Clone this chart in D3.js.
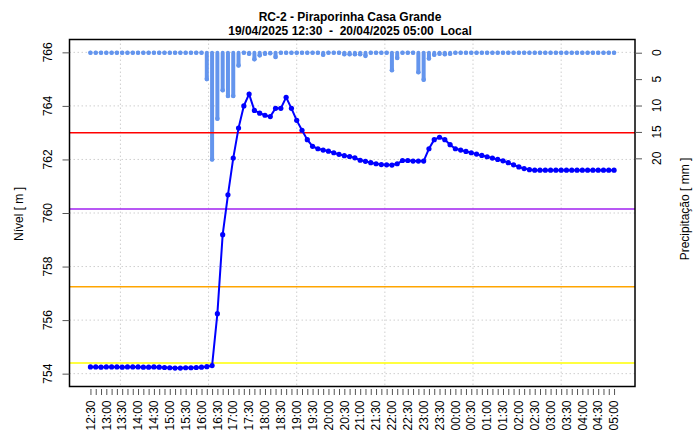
<!DOCTYPE html>
<html>
<head>
<meta charset="utf-8">
<script src="https://cdn.jsdelivr.net/npm/d3@7"></script>
<style>
body { margin: 0; background: #fff; }
text { font-family: "Liberation Sans", Arial, Helvetica, sans-serif; white-space: pre; }
</style>
</head>
<body>
<script>
// titulo
var titleLines = ["RC-2 - Piraporinha Casa Grande", "19/04/2025 12:30  -  20/04/2025 05:00  Local"];
var yTitle = "Nível [ m ]";
var y2Title = "Precipitação [ mm ]";

// leituras a cada 10 minutos, inicio 19/04/2025 12:30 (hora local)
var startLocal = Date.UTC(2025, 3, 19, 12, 30);
var stepMin = 10;
var utcOffsetHours = 3; // local = UTC-3, usado para a grade vertical

// nivel [m]
var nivel = [
  754.25, 754.25, 754.24, 754.25, 754.25, 754.25, 754.24, 754.25, 754.25, 754.25,
  754.24, 754.24, 754.25, 754.24, 754.23, 754.22, 754.21, 754.21, 754.22, 754.22,
  754.23, 754.24, 754.26, 754.30, 756.24, 759.19, 760.68, 762.05, 763.17, 764.00,
  764.44, 763.83, 763.73, 763.65, 763.60, 763.91, 763.91, 764.32, 763.91, 763.46,
  763.09, 762.74, 762.49, 762.40, 762.35, 762.31, 762.25, 762.19, 762.14, 762.11,
  762.06, 761.97, 761.93, 761.88, 761.84, 761.81, 761.80, 761.79, 761.84, 761.96,
  761.96, 761.94, 761.94, 761.94, 762.40, 762.74, 762.83, 762.74, 762.55, 762.40,
  762.35, 762.30, 762.25, 762.20, 762.15, 762.10, 762.05, 762.00, 761.95, 761.88,
  761.80, 761.72, 761.66, 761.62, 761.60, 761.60, 761.60, 761.60, 761.60, 761.60,
  761.60, 761.60, 761.60, 761.60, 761.60, 761.60, 761.60, 761.60, 761.60, 761.60
];

// precipitacao [mm]
var chuva = [
  0, 0, 0, 0, 0, 0, 0, 0, 0, 0,
  0, 0, 0, 0, 0, 0, 0, 0, 0, 0,
  0, 0, 5.0, 20.2, 12.5, 7.1, 8.2, 8.2, 2.4, 0,
  0.2, 1.25, 0.5, 0.2, 0.1, 0.8, 0, 0, 0, 0,
  0, 0, 0, 0, 0.4, 0, 0, 0, 0.3, 0.3,
  0.3, 0.3, 0.6, 0, 0, 0, 0, 3.3, 1.0, 0,
  0, 0, 3.7, 5.1, 1.1, 0.4, 0.2, 0.3, 0.2, 0,
  0, 0, 0, 0, 0, 0, 0, 0, 0, 0,
  0, 0, 0, 0, 0, 0, 0, 0, 0, 0,
  0, 0, 0, 0, 0, 0, 0, 0, 0, 0
];

// cotas de referencia
var cotas = [763.0, 760.15, 757.25, 754.4];
var cotasCores = ["#ff0000", "#a020f0", "#ffa500", "#ffff00"];

var nivelTicks = [754, 756, 758, 760, 762, 764, 766];
var chuvaTicks = [0, 5, 10, 15, 20];

var width = 695, height = 437;
// (nao usar "top" como nome global: window.top)
var plotLeft = 69.5, plotRight = 635, plotTop = 39.5, plotBottom = 386.5;

var times = nivel.map(function(d, i) { return new Date(startLocal + i * stepMin * 60000); });
var t0 = times[0].getTime(), t1 = times[times.length - 1].getTime();
var ext = (t1 - t0) * 0.04;

var xScale = d3.scaleUtc()
    .domain([new Date(t0 - ext), new Date(t1 + ext)])
    .range([plotLeft, plotRight]);

var yScale = d3.scaleLinear()
    .domain([753.52, 766.48])
    .range([plotBottom, plotTop]);

var y2Scale = d3.scaleLinear()
    .domain([-2.5, 63.2])
    .range([plotTop, plotBottom]);

var svg = d3.select('body').append('svg')
    .attr('width', width)
    .attr('height', height);

// grade horizontal
svg.append('g').selectAll('line')
    .data(nivelTicks)
    .enter().append('line')
    .attr('x1', plotLeft).attr('x2', plotRight)
    .attr('y1', function(d) { return yScale(d); })
    .attr('y2', function(d) { return yScale(d); })
    .attr('stroke', '#cfcfcf')
    .attr('stroke-dasharray', '1.5,2.5');

// grade vertical (R pretty() sobre segundos UTC: a cada 10000 s)
var gridStep = 10000 * 1000;
var offs = utcOffsetHours * 3600 * 1000;
var gridTimes = [];
var g = Math.ceil((t0 - ext + offs) / gridStep) * gridStep - offs;
while (g <= t1 + ext) { gridTimes.push(new Date(g)); g += gridStep; }

svg.append('g').selectAll('line')
    .data(gridTimes)
    .enter().append('line')
    .attr('x1', function(d) { return xScale(d); })
    .attr('x2', function(d) { return xScale(d); })
    .attr('y1', plotTop).attr('y2', plotBottom)
    .attr('stroke', '#cfcfcf')
    .attr('stroke-dasharray', '1.5,2.5');

// precipitacao
var chuvaCor = '#6495ed';
var pg = svg.append('g');
pg.selectAll('line')
    .data(chuva)
    .enter().append('line')
    .attr('x1', function(d, i) { return xScale(times[i]); })
    .attr('x2', function(d, i) { return xScale(times[i]); })
    .attr('y1', y2Scale(0))
    .attr('y2', function(d) { return y2Scale(d); })
    .attr('stroke', chuvaCor)
    .attr('stroke-width', 4)
    .attr('stroke-linecap', 'round');
pg.selectAll('circle')
    .data(chuva)
    .enter().append('circle')
    .attr('cx', function(d, i) { return xScale(times[i]); })
    .attr('cy', function(d) { return y2Scale(d); })
    .attr('r', 2.3)
    .attr('fill', chuvaCor);

// cotas
svg.append('g').selectAll('line')
    .data(cotas)
    .enter().append('line')
    .attr('x1', plotLeft).attr('x2', plotRight)
    .attr('y1', function(d) { return yScale(d); })
    .attr('y2', function(d) { return yScale(d); })
    .attr('stroke', function(d, i) { return cotasCores[i]; })
    .attr('stroke-width', 1.5);

// nivel
var line = d3.line()
    .x(function(d, i) { return xScale(times[i]); })
    .y(function(d) { return yScale(d); });

svg.append('path')
    .datum(nivel)
    .attr('d', line)
    .attr('fill', 'none')
    .attr('stroke', '#0000ff')
    .attr('stroke-width', 2);

svg.append('g').selectAll('circle')
    .data(nivel)
    .enter().append('circle')
    .attr('cx', function(d, i) { return xScale(times[i]); })
    .attr('cy', function(d) { return yScale(d); })
    .attr('r', 2.6)
    .attr('fill', '#0000ff');

// moldura
svg.append('rect')
    .attr('x', plotLeft).attr('y', plotTop)
    .attr('width', plotRight - plotLeft).attr('height', plotBottom - plotTop)
    .attr('fill', 'none')
    .attr('stroke', '#000')
    .attr('stroke-width', 1.5);

// eixo esquerdo
var yAxis = d3.axisLeft(yScale).tickValues(nivelTicks).tickSize(7).tickFormat('');
var ya = svg.append('g').attr('transform', 'translate(' + plotLeft + ',0)').call(yAxis);
ya.select('.domain').remove();
ya.selectAll('line').attr('stroke', '#555');
svg.append('g').selectAll('text')
    .data(nivelTicks)
    .enter().append('text')
    .attr('transform', function(d) { return 'translate(48,' + yScale(d) + ') rotate(-90)'; })
    .attr('text-anchor', 'middle')
    .attr('dy', '0.35em')
    .attr('font-size', '12px')
    .text(function(d) { return d; });

// eixo direito
var y2Axis = d3.axisRight(y2Scale).tickValues(chuvaTicks).tickSize(7).tickFormat('');
var y2a = svg.append('g').attr('transform', 'translate(' + plotRight + ',0)').call(y2Axis);
y2a.select('.domain').remove();
y2a.selectAll('line').attr('stroke', '#555');
svg.append('g').selectAll('text')
    .data(chuvaTicks)
    .enter().append('text')
    .attr('transform', function(d) { return 'translate(656.5,' + y2Scale(d) + ') rotate(-90)'; })
    .attr('text-anchor', 'middle')
    .attr('dy', '0.35em')
    .attr('font-size', '12px')
    .text(function(d) { return d; });

// eixo x
var xAxis = d3.axisBottom(xScale).tickValues(times).tickSize(6).tickFormat('');
var xa = svg.append('g').attr('transform', 'translate(0,' + (plotBottom + 2.5) + ')').call(xAxis);
xa.select('.domain').remove();
xa.selectAll('line').attr('stroke', '#555');

var labelTimes = times.filter(function(d, i) { return i % 3 === 0; });
var fmt = d3.utcFormat('%H:%M');
svg.append('g').selectAll('text')
    .data(labelTimes)
    .enter().append('text')
    .attr('transform', function(d) { return 'translate(' + xScale(d) + ',' + (plotBottom + 14) + ') rotate(-90)'; })
    .attr('text-anchor', 'end')
    .attr('dy', '0.35em')
    .attr('font-size', '12px')
    .text(function(d) { return fmt(d); });

// titulos dos eixos
svg.append('text')
    .attr('transform', 'translate(18.5,214) rotate(-90)')
    .attr('text-anchor', 'middle')
    .attr('dy', '0.35em')
    .attr('font-size', '12px')
    .text(yTitle);

svg.append('text')
    .attr('transform', 'translate(685,209) rotate(-90)')
    .attr('text-anchor', 'middle')
    .attr('dy', '0.35em')
    .attr('font-size', '12px')
    .text(y2Title);

// titulo
svg.append('g').selectAll('text')
    .data(titleLines)
    .enter().append('text')
    .attr('x', 350)
    .attr('y', function(d, i) { return 21 + i * 14; })
    .attr('text-anchor', 'middle')
    .attr('font-size', '12px')
    .attr('font-weight', 'bold')
    .text(function(d) { return d; });
</script>
</body>
</html>
